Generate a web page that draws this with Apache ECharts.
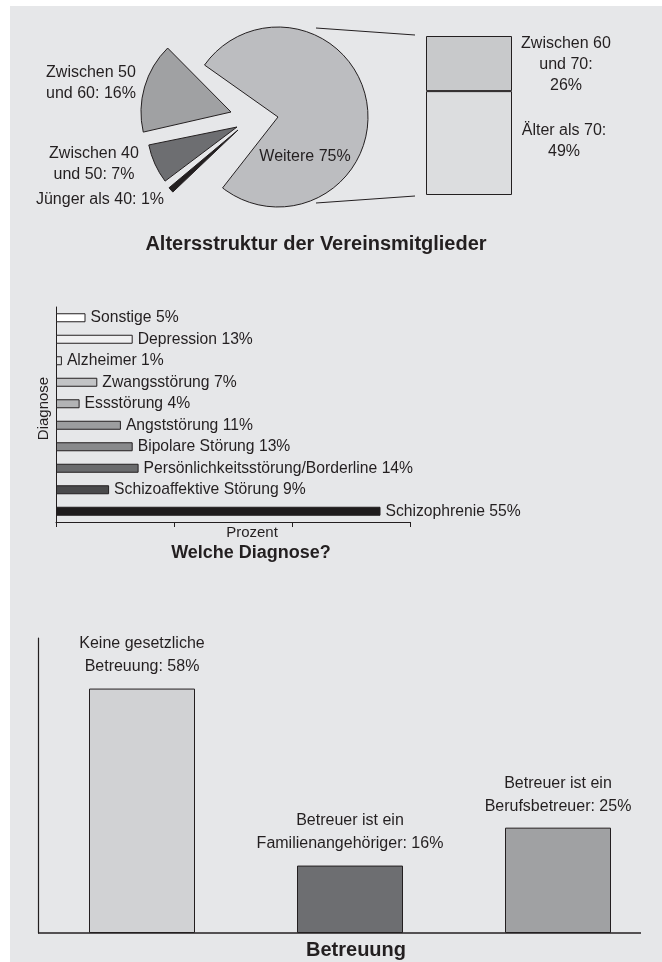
<!DOCTYPE html>
<html>
<head>
<meta charset="utf-8">
<script src="https://cdn.jsdelivr.net/npm/echarts@6.0.0/dist/echarts.min.js"></script>
<style>
    html, body { margin: 0; padding: 0; background: #ffffff; }
    #paper { position: absolute; left: 10px; top: 6px; width: 652px; height: 956px; background: #e6e7e9; }
    #main { position: absolute; left: 0; top: 0; width: 662px; height: 962px; }
</style>
</head>
<body>
<div id="paper"></div>
<div id="main"></div>
<script>
// Altersstruktur
var ageNames = ['Jünger als 40:', 'Zwischen 40\nund 50:', 'Zwischen 50\nund 60:', 'Weitere'];
var ageValues = [1, 7, 16, 75];
var oldNames = ['Älter als 70:', 'Zwischen 60\nund 70:'];
var oldValues = [49, 26];

// Welche Diagnose?
var diagNames = ['Sonstige', 'Depression', 'Alzheimer', 'Zwangsstörung', 'Essstörung', 'Angststörung',
    'Bipolare Störung', 'Persönlichkeitsstörung/Borderline', 'Schizoaffektive Störung', 'Schizophrenie'];
var diagValues = [5, 13, 1, 7, 4, 11, 13, 14, 9, 55];

// Betreuung
var careNames = ['Keine gesetzliche\nBetreuung', 'Betreuer ist ein\nFamilienangehöriger', 'Betreuer ist ein\nBerufsbetreuer'];
var careValues = [58, 16, 25];

var ink = '#231f20';
var font = "'Liberation Sans', Arial, sans-serif";

var ageColors = ['#231f20', '#6d6e71', '#a0a1a3', '#bcbdc0'];
var oldColors = ['#dcdddf', '#c8c9cb'];
var diagColors = ['#ffffff', '#f0f0f1', '#e4e5e6', '#c2c3c5', '#b2b3b5', '#9c9d9f', '#88898b', '#6a6b6d', '#4a4a4c', '#1f1c1d'];
var careColors = ['#d1d2d4', '#6d6e71', '#a0a1a3'];

// pie is drawn as one layer per slice so that each piece can be pulled out on its own
// (slice index, centre, start angle)
var pieLayers = [
    [3, [278, 117], 232],
    [2, [231, 112], 222],
    [1, [237, 127], 220.6],
    [0, [238, 130], 223.6]
];
// where the pie labels sit (x, y of the text centre)
var agePos = [[100, 200], [94, 164], [91, 83], [305, 157]];

function pieLayer(layer) {
    var own = layer[0];
    return {
        type: 'pie',
        center: layer[1],
        radius: 90,
        startAngle: layer[2],
        clockwise: true,
        avoidLabelOverlap: false,
        silent: true,
        label: {
            position: 'outside', formatter: '{b} {c}%',
            fontSize: 16, lineHeight: 21, color: ink, fontFamily: font
        },
        labelLine: { show: false },
        labelLayout: function (p) {
            var pos = agePos[p.dataIndex];
            return { x: pos[0], y: pos[1], align: 'center', verticalAlign: 'middle' };
        },
        data: ageValues.map(function (v, i) {
            var mine = i === own;
            return {
                name: ageNames[i], value: v,
                itemStyle: mine ? { color: ageColors[i], borderColor: ink, borderWidth: 1 }
                                : { color: 'rgba(0,0,0,0)', borderWidth: 0 },
                label: { show: mine }
            };
        })
    };
}

var chart = echarts.init(document.getElementById('main'), null, { renderer: 'canvas' });

chart.setOption({
    animation: false,
    backgroundColor: 'transparent',
    textStyle: { fontFamily: font, color: ink },
    grid: [
        { left: 426, top: 36, width: 86, height: 159 },
        { left: 56, top: 307, width: 354, height: 215 },
        { left: 38, top: 638, width: 636, height: 295 }
    ],
    xAxis: [
        { gridIndex: 0, type: 'category', data: [''], show: false },
        {
            gridIndex: 1, type: 'value', min: 0, max: 60, interval: 20,
            axisLine: { show: true, lineStyle: { color: ink, width: 1 } },
            axisTick: { show: true, length: 5, lineStyle: { color: ink } },
            axisLabel: { show: false },
            splitLine: { show: false },
            name: 'Prozent', nameLocation: 'middle', nameGap: 3,
            nameTextStyle: { fontSize: 15, color: ink, fontFamily: font, padding: [0, 0, 0, 38] }
        },
        {
            gridIndex: 2, type: 'category', data: careNames,
            axisLine: { show: false }, axisTick: { show: false }, axisLabel: { show: false }
        }
    ],
    yAxis: [
        { gridIndex: 0, type: 'value', min: 0, max: 75, show: false },
        {
            gridIndex: 1, type: 'category', data: diagNames, inverse: true,
            axisLine: { show: true, lineStyle: { color: ink, width: 1 } },
            axisTick: { show: false }, axisLabel: { show: false },
            name: 'Diagnose', nameLocation: 'middle', nameRotate: 90, nameGap: 5,
            nameTextStyle: { fontSize: 15, color: ink, fontFamily: font, padding: [0, 0, 0, 12] }
        },
        {
            gridIndex: 2, type: 'value', min: 0, max: 70,
            axisLine: { show: true, lineStyle: { color: ink, width: 1.2 } },
            axisTick: { show: false }, axisLabel: { show: false }, splitLine: { show: false }
        }
    ],
    series: pieLayers.map(pieLayer).concat([
        {
            type: 'bar', xAxisIndex: 0, yAxisIndex: 0, stack: 'alt', barWidth: '100%',
            name: oldNames[0], data: [oldValues[0]], silent: true,
            itemStyle: { color: oldColors[0], borderColor: ink, borderWidth: 1 },
            label: {
                show: true, position: 'right', distance: 52, align: 'center',
                formatter: '{a}\n{c}%', fontSize: 16, lineHeight: 21, color: ink, fontFamily: font,
                offset: [0, -2]
            }
        },
        {
            type: 'bar', xAxisIndex: 0, yAxisIndex: 0, stack: 'alt', barWidth: '100%',
            name: oldNames[1], data: [oldValues[1]], silent: true,
            itemStyle: { color: oldColors[1], borderColor: ink, borderWidth: 1 },
            label: {
                show: true, position: 'right', distance: 54, align: 'center',
                formatter: '{a}\n{c}%', fontSize: 16, lineHeight: 21, color: ink, fontFamily: font,
                offset: [0, 1]
            }
        },
        {
            type: 'bar', xAxisIndex: 1, yAxisIndex: 1, barWidth: 9, silent: true,
            data: diagValues.map(function (v, i) {
                return { value: v, itemStyle: { color: diagColors[i] } };
            }),
            itemStyle: { borderColor: ink, borderWidth: 1 },
            label: {
                show: true, position: 'right', distance: 5, formatter: '{b} {c}%',
                fontSize: 15.7, color: ink, fontFamily: font
            }
        },
        {
            type: 'bar', xAxisIndex: 2, yAxisIndex: 2, barWidth: 106, silent: true,
            data: careValues.map(function (v, i) {
                return { value: v, itemStyle: { color: careColors[i] } };
            }),
            itemStyle: { borderColor: ink, borderWidth: 1 },
            label: {
                show: true, position: 'top', distance: 10, formatter: '{b}: {c}%',
                fontSize: 16, lineHeight: 23, color: ink, fontFamily: font
            }
        }
    ]),
    graphic: [
        { type: 'line', shape: { x1: 316, y1: 28, x2: 415, y2: 35 }, style: { stroke: ink, lineWidth: 1 } },
        { type: 'line', shape: { x1: 316, y1: 203, x2: 415, y2: 196 }, style: { stroke: ink, lineWidth: 1 } },
        { type: 'line', shape: { x1: 38, y1: 933, x2: 641, y2: 933 }, style: { stroke: ink, lineWidth: 1.5 } },
        {
            type: 'text', x: 316, y: 244,
            style: { text: 'Altersstruktur der Vereinsmitglieder', fill: ink, font: 'bold 20px ' + font, align: 'center', verticalAlign: 'middle' }
        },
        {
            type: 'text', x: 251, y: 553,
            style: { text: 'Welche Diagnose?', fill: ink, font: 'bold 18px ' + font, align: 'center', verticalAlign: 'middle' }
        },
        {
            type: 'text', x: 356, y: 950,
            style: { text: 'Betreuung', fill: ink, font: 'bold 20px ' + font, align: 'center', verticalAlign: 'middle' }
        }
    ]
});

window.addEventListener('resize', function () {
    chart.resize();
});
</script>
</body>
</html>
